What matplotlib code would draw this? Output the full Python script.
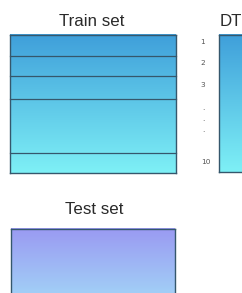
import numpy as np
import matplotlib
matplotlib.use("Agg")
import matplotlib.pyplot as plt
from matplotlib.colors import to_rgb

# ---- content ----
titles = ["Train set", "DT", "Test set"]
fold_labels = ["1", "2", "3", "·", "·", "·", "10"]
fold_label_y = [42, 63, 85, 110, 121, 132, 162]
train_split_y = [56, 76, 99, 153]

train_colors = ["#3f9fda", "#7ef0f6"]
test_colors = ["#9a9af2", "#a6eef9"]
edge = "#35576c"

W, H = 242, 293
fig = plt.figure(figsize=(W / 100, H / 100), dpi=100)
ax = fig.add_axes([0, 0, 1, 1])
ax.set_xlim(0, W)
ax.set_ylim(H, 0)
ax.axis("off")


def gradient(c0, c1, n=300):
    a, b = np.array(to_rgb(c0)), np.array(to_rgb(c1))
    t = np.linspace(0, 1, n)[:, None]
    col = a * (1 - t) + b * t
    return np.repeat(col[:, None, :], 4, axis=1)


def box(x0, x1, y0, y1, colors, sides="lrtb"):
    ax.imshow(gradient(*colors), aspect="auto", extent=(x0, x1, y1, y0),
              interpolation="nearest", zorder=1)
    segs = {"l": ([x0, x0], [y0, y1]), "r": ([x1, x1], [y0, y1]),
            "t": ([x0, x1], [y0, y0]), "b": ([x0, x1], [y1, y1])}
    for s in sides:
        xs, ys = segs[s]
        ax.plot(xs, ys, color=edge, lw=1.0, zorder=3,
                solid_capstyle="projecting")


# Train set
box(9.5, 175.5, 34.5, 173, train_colors)
for y in train_split_y:
    ax.plot([9.5, 175.5], [y, y], color=edge, lw=0.9, zorder=2)
ax.text(92, 21, titles[0], ha="center", va="center", fontsize=12.2,
        family="Liberation Sans", color="#2a2a2a")

# fold labels
for lab, y in zip(fold_labels, fold_label_y):
    ax.text(206 if lab == "10" else 203, y, lab, ha="center", va="center",
            fontsize=5.3, color="#555555", family="DejaVu Sans")

# DT box (cropped on the right)
box(218.5, W + 20, 34.5, 172, train_colors, sides="ltb")
ax.text(220, 21, titles[1], ha="left", va="center", fontsize=12.2,
        family="Liberation Sans", color="#2a2a2a")

# Test set (cropped at the bottom)
box(10.5, 174.5, 228.5, H + 40, test_colors, sides="lrt")
ax.text(94, 209, titles[2], ha="center", va="center", fontsize=12.2,
        family="Liberation Sans", color="#2a2a2a")

ax.set_xlim(0, W)
ax.set_ylim(H, 0)
fig.savefig("out.png", dpi=100, facecolor="white")
